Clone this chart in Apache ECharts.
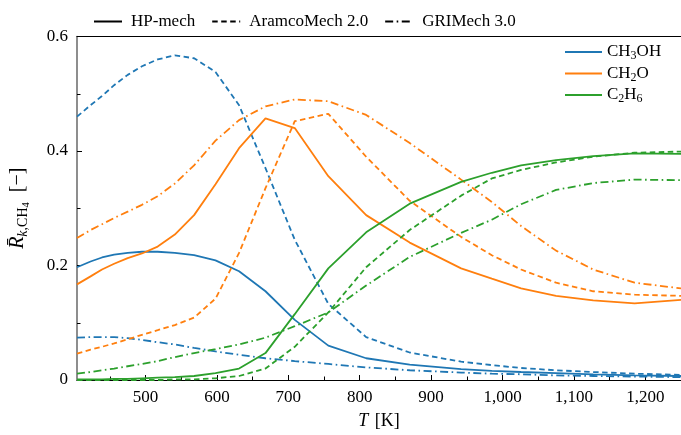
<!DOCTYPE html>
<html>
<head>
<meta charset="utf-8">
<script src="https://cdn.jsdelivr.net/npm/echarts@6/dist/echarts.min.js"></script>
<style>html,body{margin:0;padding:0;background:#fff}#c{width:681px;height:435px}</style>
</head>
<body>
<div id="c"></div>
<script>
// Temperatures (K)
const temps = [404, 423, 439, 456, 475, 495, 517, 541, 568, 598, 631, 668, 709, 756, 809, 870, 942, 985, 1026, 1075, 1127, 1185, 1250];
// CH3OH
const ch3ohHP     = [0.197, 0.207, 0.214, 0.219, 0.222, 0.224, 0.224, 0.222, 0.218, 0.209, 0.190, 0.155, 0.105, 0.060, 0.038, 0.027, 0.019, 0.016, 0.014, 0.012, 0.010, 0.008, 0.007];
const ch3ohAramco = [0.460, 0.480, 0.496, 0.515, 0.533, 0.548, 0.560, 0.567, 0.562, 0.538, 0.480, 0.370, 0.245, 0.133, 0.075, 0.048, 0.032, 0.026, 0.021, 0.017, 0.014, 0.011, 0.009];
const ch3ohGRI    = [0.074, 0.075, 0.075, 0.075, 0.073, 0.070, 0.066, 0.062, 0.056, 0.050, 0.044, 0.038, 0.033, 0.028, 0.022, 0.017, 0.013, 0.011, 0.010, 0.008, 0.007, 0.006, 0.005];
// CH2O
const ch2oHP      = [0.167, 0.181, 0.193, 0.203, 0.213, 0.221, 0.233, 0.254, 0.288, 0.342, 0.405, 0.457, 0.440, 0.356, 0.288, 0.240, 0.195, 0.177, 0.160, 0.147, 0.139, 0.134, 0.140];
const ch2oAramco  = [0.046, 0.053, 0.058, 0.064, 0.071, 0.079, 0.087, 0.096, 0.109, 0.142, 0.222, 0.335, 0.452, 0.465, 0.390, 0.313, 0.250, 0.218, 0.193, 0.170, 0.155, 0.149, 0.147];
const ch2oGRI     = [0.248, 0.262, 0.272, 0.283, 0.294, 0.306, 0.321, 0.343, 0.375, 0.418, 0.454, 0.478, 0.490, 0.487, 0.463, 0.414, 0.350, 0.311, 0.269, 0.226, 0.193, 0.170, 0.160];
// C2H6
const c2h6HP      = [0.001, 0.001, 0.001, 0.002, 0.002, 0.003, 0.004, 0.005, 0.007, 0.012, 0.020, 0.047, 0.115, 0.195, 0.258, 0.308, 0.346, 0.362, 0.375, 0.384, 0.391, 0.396, 0.395];
const c2h6Aramco  = [0.000, 0.000, 0.000, 0.000, 0.000, 0.000, 0.000, 0.001, 0.001, 0.003, 0.007, 0.020, 0.058, 0.118, 0.197, 0.262, 0.322, 0.352, 0.367, 0.380, 0.390, 0.397, 0.399];
const c2h6GRI     = [0.011, 0.014, 0.017, 0.020, 0.024, 0.028, 0.033, 0.040, 0.047, 0.054, 0.062, 0.074, 0.094, 0.118, 0.165, 0.215, 0.257, 0.280, 0.307, 0.332, 0.344, 0.350, 0.349];

const xMajorTicks = [500, 600, 700, 800, 900, 1000, 1100, 1200];
const xMinorTicks = [450, 550, 650, 750, 850, 950, 1050, 1150];
const mechNames = ['HP-mech', 'AramcoMech 2.0', 'GRIMech 3.0'];
const speciesNames = ['CH3OH', 'CH2O', 'C2H6'];

const FONT = 'Liberation Serif';
const colors = {CH3OH: '#1f77b4', CH2O: '#ff7f0e', C2H6: '#2ca02c'};
const dashTypes = {'HP-mech': 'solid', 'AramcoMech 2.0': [5.5, 3.5], 'GRIMech 3.0': [8, 3.5, 1.6, 3.5]};
const LW = 1.8;

function pairs(vals) { return temps.map((t, i) => [t, vals[i]]); }

const seriesDefs = [
  ['CH3OH', 'HP-mech', ch3ohHP], ['CH3OH', 'AramcoMech 2.0', ch3ohAramco], ['CH3OH', 'GRIMech 3.0', ch3ohGRI],
  ['CH2O', 'HP-mech', ch2oHP], ['CH2O', 'AramcoMech 2.0', ch2oAramco], ['CH2O', 'GRIMech 3.0', ch2oGRI],
  ['C2H6', 'HP-mech', c2h6HP], ['C2H6', 'AramcoMech 2.0', c2h6Aramco], ['C2H6', 'GRIMech 3.0', c2h6GRI]
];

const series = seriesDefs.map(([sp, mech, vals]) => ({
  type: 'line', name: sp + ' ' + mech, data: pairs(vals), xAxisIndex: 0, yAxisIndex: 0,
  symbol: 'none', silent: true,
  lineStyle: {color: colors[sp], width: LW, type: dashTypes[mech]}, itemStyle: {color: colors[sp]}
}));
mechNames.forEach(m => series.push({type: 'line', name: m, data: [], symbol: 'none',
  lineStyle: {color: '#000', width: LW, type: dashTypes[m]}, itemStyle: {color: '#000'}}));
speciesNames.forEach(s => series.push({type: 'line', name: s, data: [], symbol: 'none',
  lineStyle: {color: colors[s], width: LW, type: 'solid'}, itemStyle: {color: colors[s]}}));

const subRich = {
  n: {fontFamily: FONT, fontSize: 17, color: '#000', lineHeight: 22},
  s: {fontFamily: FONT, fontSize: 12, color: '#000', lineHeight: 22, verticalAlign: 'bottom', padding: [0, 0, 1, 0]}
};
function chem(name) {
  return name.replace(/([A-Za-z]+)(\d?)/g, (m, a, d) => '{n|' + a + '}' + (d ? '{s|' + d + '}' : ''));
}
const hiddenSymbol = {color: 'rgba(0,0,0,0)', borderWidth: 0, borderColor: 'rgba(0,0,0,0)', opacity: 0};

const option = {
  animation: false,
  backgroundColor: '#fff',
  grid: {left: 73, right: 0, top: 36.5, bottom: 51.5, containLabel: false},
  legend: [
    {
      data: mechNames, left: 88, top: 8, itemWidth: 28, itemHeight: 12, itemGap: 16,
      selectedMode: false, itemStyle: hiddenSymbol,
      textStyle: {fontFamily: FONT, fontSize: 17, color: '#000', padding: [0, 0, 0, 4]}
    },
    {
      data: speciesNames, orient: 'vertical', left: 559, top: 38.5, itemWidth: 37, itemHeight: 12, itemGap: 2,
      selectedMode: false, itemStyle: hiddenSymbol,
      formatter: chem,
      textStyle: {fontFamily: FONT, fontSize: 17, color: '#000', rich: subRich}
    }
  ],
  xAxis: [
    {
      type: 'value', min: 404, max: 1250, position: 'bottom',
      axisLine: {show: true, onZero: false, lineStyle: {color: '#000', width: 1.2}},
      axisTick: {show: true, inside: true, length: 5, customValues: xMajorTicks, lineStyle: {color: '#000', width: 1}},
      axisLabel: {customValues: xMajorTicks, fontFamily: FONT, fontSize: 17, color: '#000', margin: 9,
        formatter: v => Number(v).toLocaleString('en-US')},
      splitLine: {show: false},
      name: '{i|T}  {n|[K]}', nameLocation: 'middle', nameGap: 32,
      nameTextStyle: {rich: {
        i: {fontFamily: FONT, fontSize: 18, fontStyle: 'italic', color: '#000'},
        n: {fontFamily: FONT, fontSize: 18, color: '#000'}
      }}
    },
    {
      type: 'value', min: 404, max: 1250, position: 'bottom',
      axisLine: {show: false, onZero: false},
      axisTick: {show: true, inside: true, length: 3.5, customValues: xMinorTicks, lineStyle: {color: '#000', width: 1}},
      axisLabel: {show: false}, splitLine: {show: false}
    },
    {
      type: 'value', min: 404, max: 1250, position: 'top',
      axisLine: {show: true, onZero: false, lineStyle: {color: '#000', width: 1.2}},
      axisTick: {show: false}, axisLabel: {show: false}, splitLine: {show: false}
    }
  ],
  yAxis: [{
    type: 'value', min: 0, max: 0.6, interval: 0.2,
    axisLine: {show: true, onZero: false, lineStyle: {color: '#7a7a7a', width: 1.7}},
    axisTick: {show: true, inside: true, length: 5, lineStyle: {color: '#000', width: 1}},
    minorTick: {show: true, splitNumber: 2, length: 3.5, lineStyle: {color: '#000', width: 1}},
    axisLabel: {fontFamily: FONT, fontSize: 17, color: '#000', margin: 9,
      formatter: v => (v === 0 ? '0' : v.toFixed(1))},
    splitLine: {show: false}, minorSplitLine: {show: false},
    name: '{r|R\u0304}{si|k}{s|,CH}{ss|4}   {n|[\u2212]}', nameLocation: 'middle', nameGap: 46, nameRotate: 90,
    nameTextStyle: {rich: {
      r: {fontFamily: FONT, fontSize: 20, fontStyle: 'italic', color: '#000', lineHeight: 26},
      si: {fontFamily: FONT, fontSize: 14, fontStyle: 'italic', color: '#000', lineHeight: 26, verticalAlign: 'bottom', padding: [0, 0, 1, 0]},
      s: {fontFamily: FONT, fontSize: 14, color: '#000', lineHeight: 26, verticalAlign: 'bottom', padding: [0, 0, 1, 0]},
      ss: {fontFamily: FONT, fontSize: 10.5, color: '#000', lineHeight: 26, verticalAlign: 'bottom', padding: [0, 0, -1, 0]},
      n: {fontFamily: FONT, fontSize: 20, color: '#000', lineHeight: 26}
    }}
  }],
  series: series
};

const chart = echarts.init(document.getElementById('c'), null, {renderer: 'canvas'});
chart.setOption(option);
</script>
</body>
</html>
